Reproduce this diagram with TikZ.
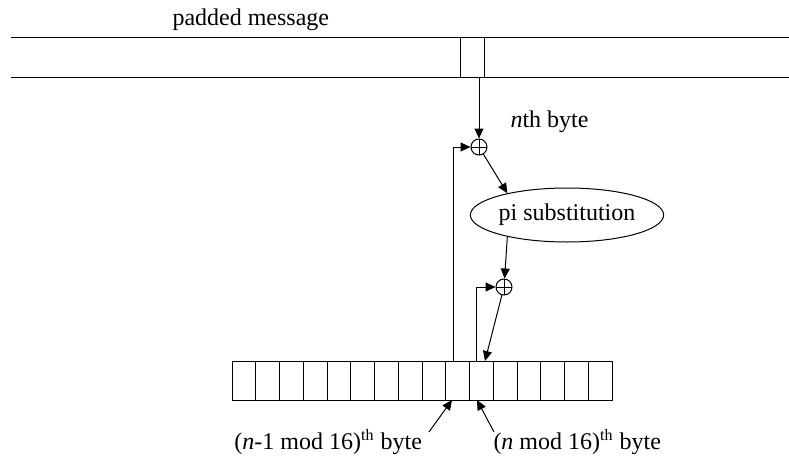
\documentclass[tikz,border=0pt]{standalone}
\usepackage{fontspec}
\setmainfont{Liberation Serif}
\usetikzlibrary{arrows.meta,shapes.geometric,calc}

\tikzset{
  cell/.style={draw,minimum width=11.875pt,minimum height=19.5pt,inner sep=0pt,outer sep=0pt},
  xorop/.style={circle,draw,minimum size=8pt,inner sep=0pt,
    path picture={\draw (path picture bounding box.north) -- (path picture bounding box.south)
      (path picture bounding box.west) -- (path picture bounding box.east);}},
  lbl/.style={anchor=base west,inner sep=0pt},
}

\begin{document}
\begin{tikzpicture}[x=0.5pt,y=-0.5pt,>={Triangle[length=5pt,width=4.5pt]},every node/.style={font=\fontsize{12}{14}\selectfont},line width=.5pt]
\useasboundingbox (0,0) rectangle (789,456);
% message band
\draw (11,37) -- (789,37);
\draw (11,77) -- (789,77);
\node[cell,minimum width=12pt,minimum height=20pt] (msgbyte) at (472,57) {};
\node[lbl] (padded) at (172,25) {padded message};
% xor and substitution
\node[xorop] (xor1) at (479,147) {};
\node[lbl] (nbyte) at (510,127) {\textit{n}th byte};
\node[ellipse,draw,minimum width=91pt,minimum height=27pt,inner sep=0pt] (pisub) at (567,215) {pi substitution};
\node[xorop] (xor2) at (504,287) {};
% checksum register
\foreach \i in {0,...,15}
  \node[cell] (r\i) at ({232+23.75*(\i+.5)},380.5) {};
\draw[->] (msgbyte.south -| xor1) -- (xor1);
\draw[->] (xor1) -- (pisub.160);
\draw[->] (pisub.200) -- (xor2);
\draw[->] (xor2) -- ($(r10.north)+(3.6,0)$);
\draw[->] ($(r9.north)+(-4.6,0)$) |- (xor1);
\draw[->] ($(r10.north)+(-4.4,0)$) |- (xor2);
% labels below
\node[lbl] (lblprev) at (234,449) {(\textit{n}-1 mod 16)\textsuperscript{th} byte};
\node[lbl] (lblcur) at (493,449) {(\textit{n} mod 16)\textsuperscript{th} byte};
\coordinate (prevtail) at (429,432);
\coordinate (curtail) at (494,432);
\draw[->] (prevtail) -- ($(r9.south)+(-5.6,0)$);
\draw[->] (curtail) -- ($(r10.south)+(-4.4,0)$);
\end{tikzpicture}
\end{document}
